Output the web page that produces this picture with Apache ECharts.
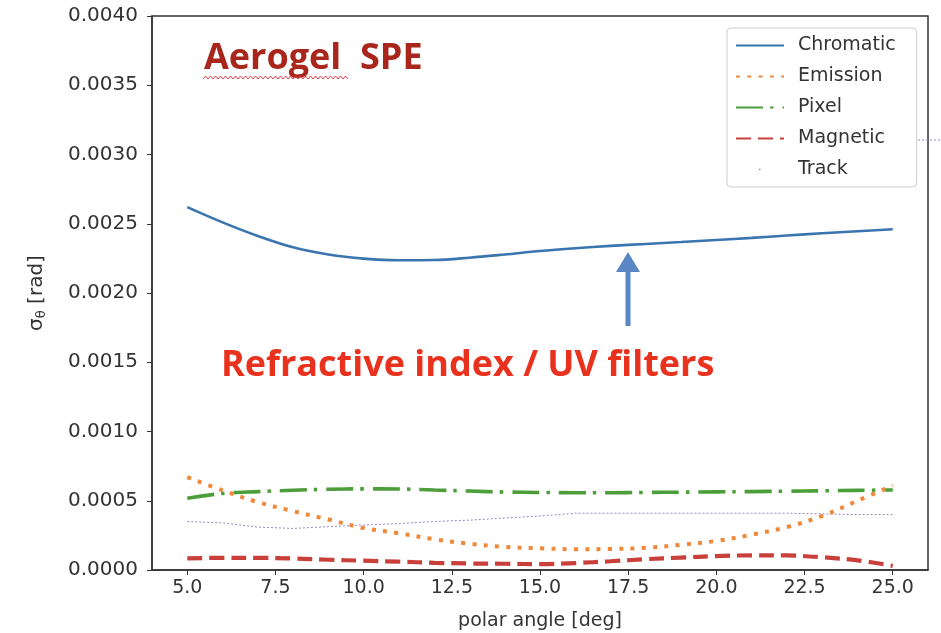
<!DOCTYPE html>
<html><head><meta charset="utf-8">
<script src="https://cdn.jsdelivr.net/npm/echarts@6/dist/echarts.min.js"></script>
<style>html,body{margin:0;padding:0;background:#fff}#c{width:941px;height:633px}</style>
</head><body><div id="c"></div>
<script>
const angles = [5,6,7,8,9,10,11,12,13,14,15,16,17,18,19,20,21,22,23,24,25];
const chromatic = [0.00262,0.00251,0.002412,0.00233,0.002278,0.002248,0.002236,0.002238,0.002255,0.002278,0.002303,0.002323,0.00234,0.002354,0.002368,0.002383,0.002398,0.002415,0.002431,0.002446,0.00246];
const emission = [0.00067,0.000575,0.00049,0.000425,0.000365,0.000303,0.000265,0.000222,0.00019,0.000167,0.000157,0.00015,0.000152,0.00016,0.000182,0.00021,0.000255,0.00031,0.00039,0.0005,0.00061];
const pixel = [0.000518,0.000553,0.000566,0.000576,0.000583,0.000586,0.000585,0.000578,0.00057,0.000563,0.00056,0.000558,0.000558,0.00056,0.000562,0.000564,0.000566,0.000569,0.000572,0.000575,0.000578];
const magnetic = [0.000084,0.000088,0.000088,0.000083,0.000074,0.000067,0.00006,0.000052,0.000047,0.000045,0.000042,0.00005,0.000063,0.000078,0.00009,0.0001,0.000106,0.000105,0.000092,0.00007,0.00003];
const track = [0.00035,0.00034,0.00031,0.0003,0.000313,0.000325,0.000335,0.00035,0.00036,0.000375,0.00039,0.00041,0.00041,0.00041,0.00041,0.00041,0.00041,0.00041,0.000405,0.0004,0.0004];
const seriesNames = ['Chromatic','Emission','Pixel','Magnetic','Track'];
const xTickValues = [5,7.5,10,12.5,15,17.5,20,22.5,25];
const yAxisTitle = '{s|σ}{sub|θ}{s| [rad]}';
const xAxisTitle = 'polar angle [deg]';
const annotTitle = 'Aerogel  SPE';
const annotNote = 'Refractive index / UV filters';

const zip = ys => angles.map((x,i)=>[x,ys[i]]);
const chart = echarts.init(document.getElementById('c'));

// decorative wavy underline (spell-check mark) under "Aerogel"
const wave = [];
for (let i = 0; i <= 58; i++) wave.push([203 + i*2.5, i%2 ? 76 : 79]);

const styles = [
  {color:'#3a75b0', width:2.6, type:'solid'},
  {color:'#f0883a', width:4, type:[4,7.3]},
  {color:'#4c9e3a', width:3.6, type:[27,7,3.5,9]},
  {color:'#c9403a', width:4.2, type:[15,7]},
  {color:'#9a83cc', width:1, type:[2,2]}
];
const datas = [chromatic, emission, pixel, magnetic, track];

chart.setOption({
  animation:false,
  grid:{left:152,right:13,top:16,bottom:63,show:true,borderColor:'#333',borderWidth:1.5,containLabel:false,outerBoundsMode:'none'},
  xAxis:{type:'value',min:4,max:26,
    axisLine:{lineStyle:{color:'#333',width:1.5}},
    axisTick:{customValues:xTickValues,length:5,lineStyle:{color:'#333'}},
    axisLabel:{customValues:xTickValues,formatter:v=>v.toFixed(1),fontFamily:'DejaVu Sans',fontSize:19,color:'#333',margin:9},
    splitLine:{show:false},
    name:xAxisTitle,nameLocation:'middle',nameGap:42,
    nameTextStyle:{fontFamily:'DejaVu Sans',fontSize:19,color:'#333'}},
  yAxis:{type:'value',min:0,max:0.004,interval:0.0005,
    axisLine:{show:true,lineStyle:{color:'#333',width:1.5}},
    axisTick:{show:true,length:5,lineStyle:{color:'#333'}},
    axisLabel:{formatter:v=>v.toFixed(4),fontFamily:'DejaVu Sans',fontSize:20,color:'#333',margin:14},
    splitLine:{show:false},
    name:yAxisTitle,nameLocation:'middle',nameGap:104,nameRotate:90,
    nameTextStyle:{fontFamily:'DejaVu Sans',color:'#333',
      rich:{s:{fontFamily:'DejaVu Sans',fontSize:20,color:'#333'},sub:{fontFamily:'DejaVu Sans',fontSize:13,color:'#333',verticalAlign:'bottom',padding:[9,0,0,0]}}}},
  legend:{orient:'vertical',left:727,top:28,padding:[8,21,8,8],itemWidth:48,itemHeight:14,itemGap:12,
    backgroundColor:'#fff',borderColor:'#ccc',borderWidth:1,borderRadius:4,
    itemStyle:{opacity:0},
    textStyle:{fontFamily:'DejaVu Sans',fontSize:19,color:'#333',padding:[0,0,0,9]},
    data:seriesNames.map(n=> n==='Track' ? {name:n,lineStyle:{type:[1.5,100],dashOffset:-23,width:1.5}} : {name:n})},
  series: seriesNames.map((n,i)=>({
    name:n,type:'line',data:zip(datas[i]),symbol:'none',smooth:i===4?false:0.35,
    lineStyle:{color:styles[i].color,width:styles[i].width,type:styles[i].type,cap:'butt'},
    itemStyle:{color:styles[i].color,opacity:0},z:5-i
  })),
  graphic:[
    {type:'text',left:204,top:41,style:{text:annotTitle,fill:'#a8261b',font:'bold 36px "Open Sans"'}},
    {type:'polyline',shape:{points:wave},style:{stroke:'#e04040',lineWidth:1,fill:null}},
    {type:'text',left:221,top:348,style:{text:annotNote,fill:'#e8321e',font:'bold 36px "Open Sans"'}},
    {type:'line',shape:{x1:628,y1:326,x2:628,y2:268},style:{stroke:'#5a86c3',lineWidth:5}},
    {type:'polygon',shape:{points:[[616,272],[640,272],[628,252]]},style:{fill:'#5a86c3'}},
    {type:'line',shape:{x1:918,y1:140,x2:941,y2:140},style:{stroke:'#9a83cc',lineWidth:1,lineDash:[2,2]}}
  ]
});
</script></body></html>
